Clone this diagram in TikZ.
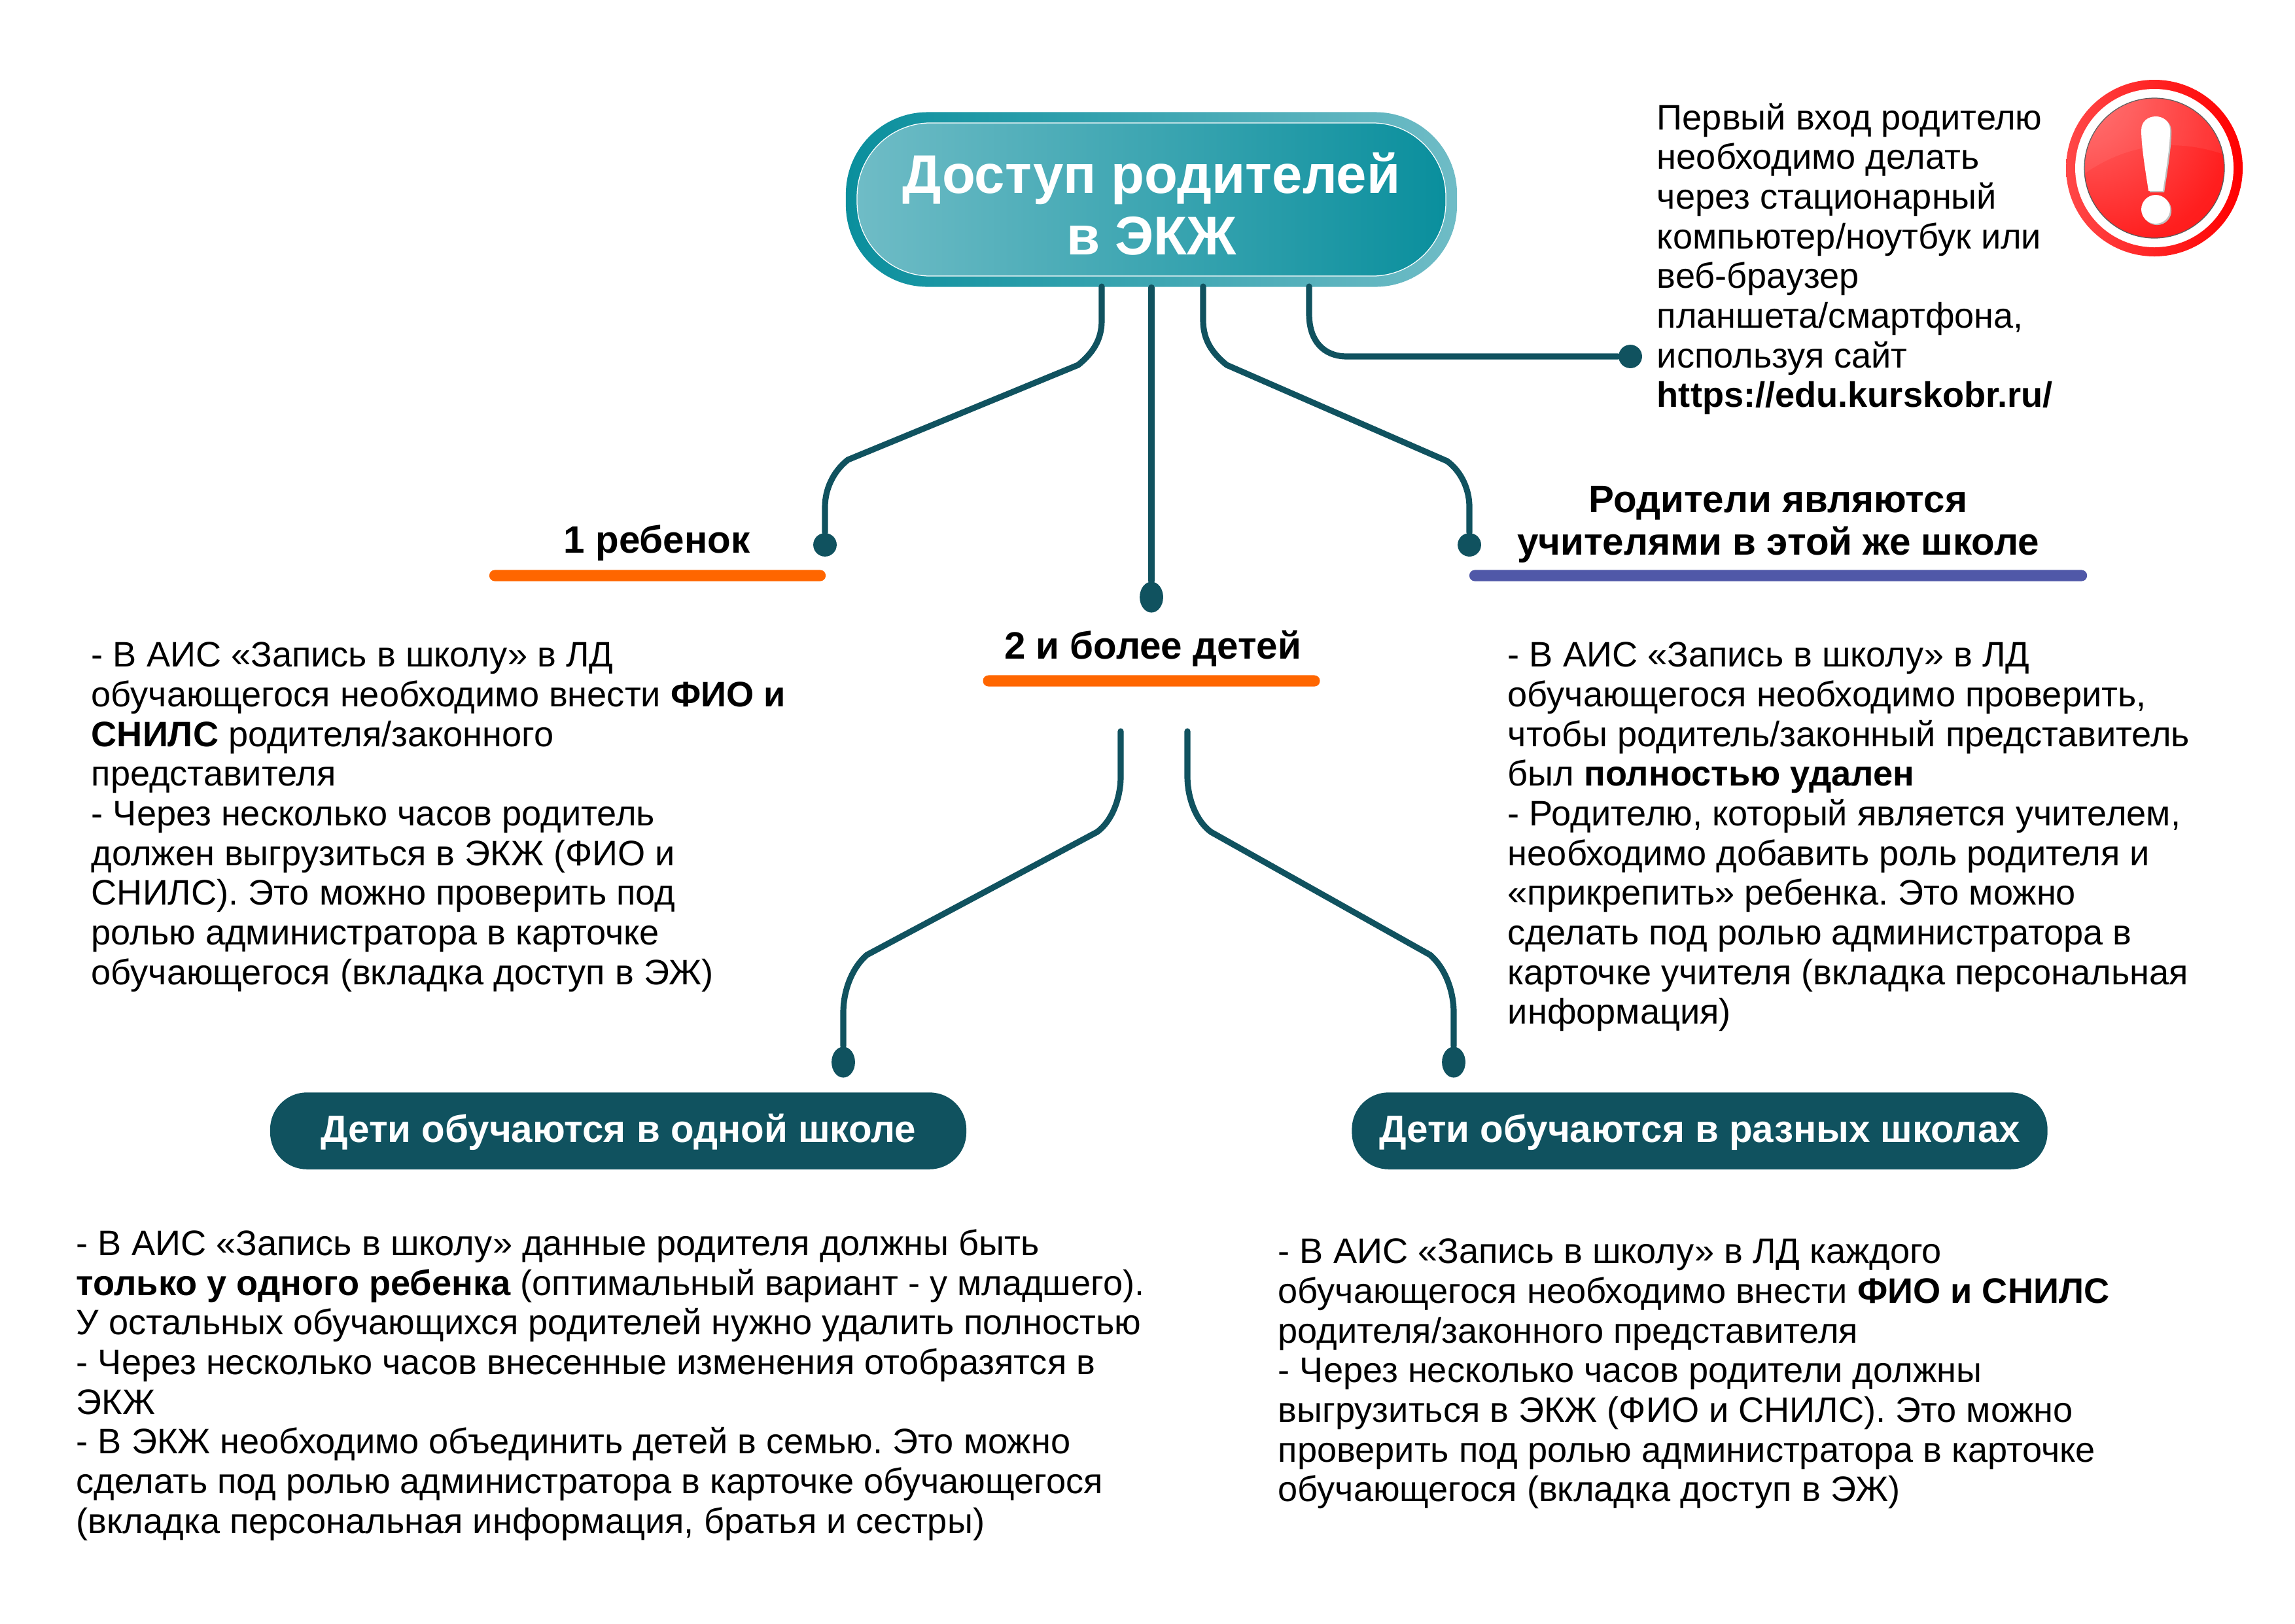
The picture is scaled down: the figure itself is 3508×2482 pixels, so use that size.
\documentclass[tikz,border=0pt]{standalone}
\usepackage{fontspec}
\setmainfont{Liberation Sans}
\usetikzlibrary{shapes.geometric}
\frenchspacing
\definecolor{stemcol}{HTML}{10525F}
\definecolor{barorange}{HTML}{FF6600}
\definecolor{barblue}{HTML}{5058A8}
\definecolor{tealdark}{HTML}{0A8F9D}
\definecolor{teallight}{HTML}{6FBCC6}
\pgfdeclareradialshading{redglow}{\pgfpoint{-1.3cm}{1.3cm}}{color(0cm)=(red!35!white);color(0.5cm)=(red!62!white);color(1.5cm)=(red!88!white);color(2.6cm)=(red)}
\tikzset{
  stem/.style={draw=stemcol,line width=2.2pt,line cap=round},
  dotnode/.style={circle,fill=stemcol,inner sep=0,minimum size=8.6pt},
  longdot/.style={ellipse,fill=stemcol,inner sep=0,minimum width=8.6pt,minimum height=11.3pt},
  barnode/.style={rectangle,rounded corners=2pt,inner sep=0,minimum height=4.1pt},
  headtext/.style={font=\fontsize{14}{15.6}\selectfont\bfseries,align=center,inner sep=0},
  bodytext/.style={font=\fontsize{13}{14.56}\selectfont,align=left,anchor=north west,inner sep=0},
  pillnode/.style={rectangle,fill=stemcol,rounded corners=13.5pt,inner sep=0,minimum height=28.2pt},
  pilltext/.style={text=white,inner sep=0,font=\fontsize{14}{17}\selectfont\bfseries}
}
\begin{document}
\begin{tikzpicture}[x=0.24pt,y=-0.24pt]
  \useasboundingbox (0,0) rectangle (3508,2482);
  \node[rectangle,rounded corners=30pt,left color=tealdark,right color=teallight,
    minimum width=224.2pt,minimum height=64.1pt,inner sep=0] (title) at (1760,305) {};
  \node[rectangle,rounded corners=27pt,left color=teallight,right color=tealdark,draw=white,line width=0.3pt,
    minimum width=216pt,minimum height=56.2pt,inner sep=0] (titlein) at (1760,305) {};
  \node[inner sep=0,text=white,align=center,font=\fontsize{20}{22.4}\selectfont\bfseries] (titletxt) at (1760,312) {Доступ родителей\\в ЭКЖ};

  \coordinate (s1) at (1684,438);
  \coordinate (s3) at (1839,438);
  \coordinate (s4) at (2001,438);
  \node[dotnode] (d1) at (1261,833) {};
  \node[longdot] (d2) at (1760,913) {};
  \node[dotnode] (d3) at (2246,833) {};
  \node[dotnode] (d4) at (2492,545) {};
  \draw[stem] (s1) -- (1684,490) .. controls (1684,520) and (1670,540) .. (1648,558)
    -- (1296,703) .. controls (1272,722) and (1261,750) .. (1261,775) -- (d1);
  \draw[stem] (title.south) -- (d2);
  \draw[stem] (s3) -- (1839,490) .. controls (1839,520) and (1853,540) .. (1875,558)
    -- (2212,705) .. controls (2235,722) and (2246,750) .. (2246,775) -- (d3);
  \draw[stem] (s4) -- (2001,480) .. controls (2001,520) and (2022,545) .. (2059,545) -- (d4);

  \node[headtext] (one) at (1004,830) {1 ребенок};
  \node[barnode,fill=barorange,minimum width=123.4pt] (bar1) at (1005,880) {};
  \node[headtext] (two) at (1762,992) {2 и более детей};
  \node[barnode,fill=barorange,minimum width=123.6pt] (bar2) at (1760,1041) {};
  \node[headtext] (three) at (2718,802) {Родители являются\\учителями в этой же школе};
  \node[barnode,fill=barblue,minimum width=226.6pt] (bar3) at (2718,880) {};

  \node[bodytext] (note) at (2532,157) {Первый вход родителю\\необходимо делать\\через стационарный\\компьютер/ноутбук или\\веб-браузер\\планшета/смартфона,\\используя сайт\\\textbf{https://edu.kurskobr.ru/}};
  \node[bodytext] (txt1) at (139,981) {- В АИС «Запись в школу» в ЛД\\обучающегося необходимо внести \textbf{ФИО и}\\\textbf{СНИЛС} родителя/законного\\представителя\\- Через несколько часов родитель\\должен выгрузиться в ЭКЖ (ФИО и\\СНИЛС). Это можно проверить под\\ролью администратора в карточке\\обучающегося (вкладка доступ в ЭЖ)};
  \node[bodytext] (txt2) at (2304,981) {- В АИС «Запись в школу» в ЛД\\обучающегося необходимо проверить,\\чтобы родитель/законный представитель\\был \textbf{полностью удален}\\- Родителю, который является учителем,\\необходимо добавить роль родителя и\\«прикрепить» ребенка. Это можно\\сделать под ролью администратора в\\карточке учителя (вкладка персональная\\информация)};

  \coordinate (b1) at (1713,1118);
  \coordinate (b2) at (1815,1118);
  \node[longdot] (d5) at (1289,1624) {};
  \node[longdot] (d6) at (2222,1624) {};
  \draw[stem] (b1) -- (1713,1187) .. controls (1713,1220) and (1700,1255) .. (1677,1272)
    -- (1325,1460) .. controls (1302,1480) and (1289,1515) .. (1289,1548) -- (d5);
  \draw[stem] (b2) -- (1815,1187) .. controls (1815,1220) and (1828,1255) .. (1851,1272)
    -- (2186,1460) .. controls (2209,1480) and (2222,1515) .. (2222,1548) -- (d6);

  \node[pillnode,minimum width=255.4pt] (pill1) at (945,1729) {};
  \node[pilltext] (pilltxt1) at (945,1731) {Дети обучаются в одной школе};
  \node[pillnode,minimum width=255.2pt] (pill2) at (2598,1729) {};
  \node[pilltext] (pilltxt2) at (2598,1731) {Дети обучаются в разных школах};

  \node[bodytext] (txt3) at (116,1879) {- В АИС «Запись в школу» данные родителя должны быть\\\textbf{только у одного ребенка} (оптимальный вариант - у младшего).\\У остальных обучающихся родителей нужно удалить полностью\\- Через несколько часов внесенные изменения отобразятся в\\ЭКЖ\\- В ЭКЖ необходимо объединить детей в семью. Это можно\\сделать под ролью администратора в карточке обучающегося\\(вкладка персональная информация, братья и сестры)};
  \node[bodytext] (txt4) at (1953,1893) {- В АИС «Запись в школу» в ЛД каждого\\обучающегося необходимо внести \textbf{ФИО и СНИЛС}\\родителя/законного представителя\\- Через несколько часов родители должны\\выгрузиться в ЭКЖ (ФИО и СНИЛС). Это можно\\проверить под ролью администратора в карточке\\обучающегося (вкладка доступ в ЭЖ)};

  \shade[left color=red!72!white,right color=red] (3293,257) circle (135);
  \fill[white] (3293,257) circle (121);
  \shade[shading=redglow] (3293,257) circle (107);
  \draw[black!65,line width=0.3pt] (3293,257) circle (107);
  \begin{scope}
    \clip (3293,257) circle (107);
    \fill[white,opacity=0.07] (3180,270) .. controls (3240,225) and (3320,205) .. (3410,240) -- (3410,140) -- (3180,140) -- cycle;
  \end{scope}
  \fill[black!25,xshift=0.5pt,yshift=-0.5pt] (3273,199) .. controls (3273,171) and (3317,171) .. (3317,199)
    .. controls (3317,225) and (3310,265) .. (3306,292) -- (3284,292) .. controls (3280,265) and (3273,225) .. (3273,199) -- cycle
    (3295,320) circle (22);
  \fill[white] (3273,199) .. controls (3273,171) and (3317,171) .. (3317,199)
    .. controls (3317,225) and (3310,265) .. (3306,292) -- (3284,292) .. controls (3280,265) and (3273,225) .. (3273,199) -- cycle
    (3295,320) circle (22);
\end{tikzpicture}
\end{document}
